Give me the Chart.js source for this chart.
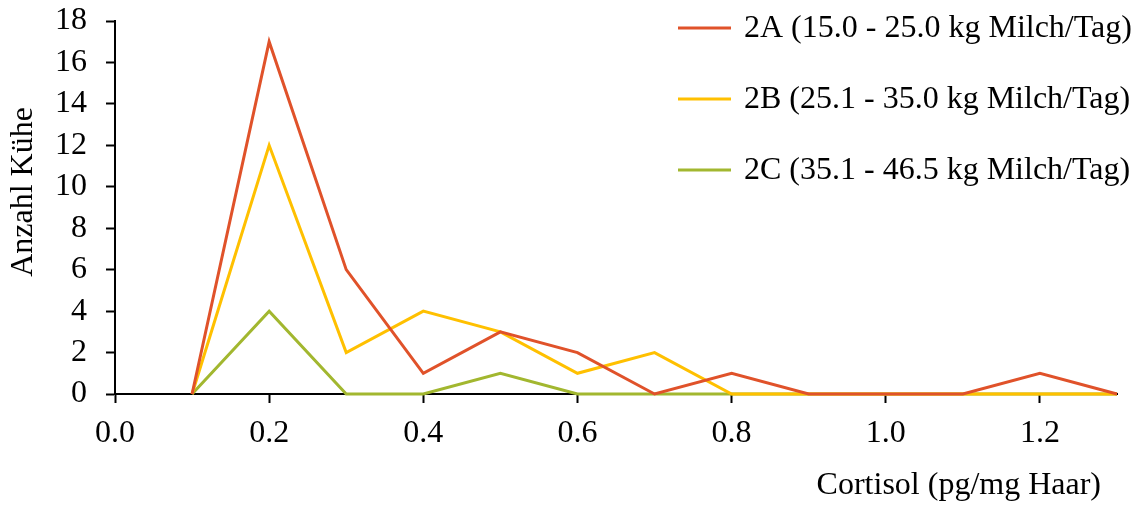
<!DOCTYPE html>
<html>
<head>
<meta charset="utf-8">
<script src="https://cdn.jsdelivr.net/npm/chart.js@4"></script>
<style>
  html, body { margin: 0; padding: 0; background: #fff; }
  #wrap { width: 1139px; height: 505px; position: relative; }
</style>
</head>
<body>
<div id="wrap"><canvas id="c" width="1139" height="505"></canvas></div>
<script>
// Cortisol classes (pg/mg Haar)
const cortisol = [0.1, 0.2, 0.3, 0.4, 0.5, 0.6, 0.7, 0.8, 0.9, 1.0, 1.1, 1.2, 1.3];
// Number of cows per group
const group2A = [0, 17, 6, 1, 3, 2, 0, 1, 0, 0, 0, 1, 0];
const group2B = [0, 12, 2, 4, 3, 1, 2, 0, 0, 0, 0, 0, 0];
const group2C = [0, 4, 0, 0, 1, 0, 0, 0, 0, 0, 0, 0, 0];
const seriesLabels = [
  '2A (15.0 - 25.0 kg Milch/Tag)',
  '2B (25.1 - 35.0 kg Milch/Tag)',
  '2C (35.1 - 46.5 kg Milch/Tag)'
];
const seriesColors = ['#E0522A', '#FFC000', '#A2B72F'];
const xTicks = [0.0, 0.2, 0.4, 0.6, 0.8, 1.0, 1.2];
const yTicks = [0, 2, 4, 6, 8, 10, 12, 14, 16, 18];

const FONT = '"Liberation Serif", "Times New Roman", serif';
const FSIZE = 32;

function toPoints(vals) {
  return cortisol.map((x, i) => ({ x: x, y: vals[i] }));
}

// Legend and axis titles drawn on the canvas
const decorations = {
  id: 'decorations',
  afterDraw(chart) {
    const ctx = chart.ctx;
    ctx.save();
    ctx.font = FSIZE + 'px ' + FONT;
    ctx.fillStyle = '#000';
    ctx.textBaseline = 'middle';
    const rows = [28, 99, 170];
    chart.data.datasets.forEach((ds, i) => {
      ctx.strokeStyle = ds.borderColor;
      ctx.lineWidth = 3;
      ctx.beginPath();
      ctx.moveTo(678, rows[i]);
      ctx.lineTo(731, rows[i]);
      ctx.stroke();
      ctx.textAlign = 'left';
      ctx.fillText(ds.label, 744, rows[i] + 1);
    });
    // x-axis title
    ctx.textAlign = 'right';
    ctx.fillText('Cortisol (pg/mg Haar)', 1101, 486);
    // y-axis title
    ctx.translate(24, 192);
    ctx.rotate(-Math.PI / 2);
    ctx.textAlign = 'center';
    ctx.fillText('Anzahl Kühe', 0, 0);
    ctx.restore();
  }
};

new Chart(document.getElementById('c'), {
  type: 'line',
  data: {
    datasets: [group2A, group2B, group2C].map((vals, i) => ({
      label: seriesLabels[i],
      data: toPoints(vals),
      borderColor: seriesColors[i],
      backgroundColor: seriesColors[i],
      borderWidth: 3,
      pointRadius: 0,
      tension: 0,
      fill: false,
      clip: false
    }))
  },
  options: {
    responsive: false,
    animation: false,
    devicePixelRatio: 1,
    layout: { padding: { top: 21, right: 22, left: 0, bottom: 0 } },
    plugins: { legend: { display: false }, tooltip: { enabled: false } },
    scales: {
      x: {
        type: 'linear',
        min: 0,
        max: 1.3,
        afterBuildTicks(scale) { scale.ticks = xTicks.map(v => ({ value: v })); },
        afterFit(scale) {
          scale.height = 111;
          scale.paddingLeft = 0;
          scale.paddingRight = 0;
        },
        grid: {
          display: true,
          drawOnChartArea: false,
          drawTicks: true,
          tickLength: 9,
          tickWidth: 2,
          color: '#000'
        },
        border: { display: true, color: '#000', width: 2 },
        ticks: {
          color: '#000',
          font: { family: FONT, size: FSIZE, lineHeight: 1 },
          padding: 15,
          maxRotation: 0,
          autoSkip: false,
          callback: v => Number(v).toFixed(1)
        }
      },
      y: {
        min: 0,
        max: 18,
        afterBuildTicks(scale) { scale.ticks = yTicks.map(v => ({ value: v })); },
        afterFit(scale) {
          scale.width = 115;
          scale.paddingTop = 0;
          scale.paddingBottom = 0;
        },
        grid: {
          display: true,
          drawOnChartArea: false,
          drawTicks: true,
          tickLength: 9,
          tickWidth: 2,
          color: '#000'
        },
        border: { display: true, color: '#000', width: 2 },
        ticks: {
          color: '#000',
          font: { family: FONT, size: FSIZE, lineHeight: 1 },
          padding: 19,
          autoSkip: false
        }
      }
    }
  },
  plugins: [decorations]
});
</script>
</body>
</html>
